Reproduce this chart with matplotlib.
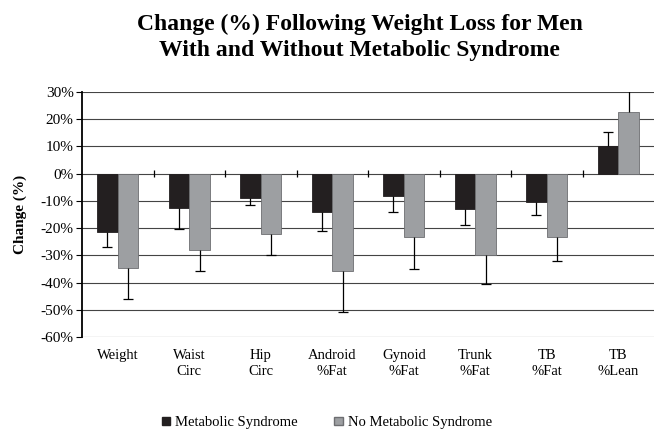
import numpy as np
import matplotlib.pyplot as plt
from matplotlib.patches import Patch


# data
categories = ['Weight', 'Waist\nCirc', 'Hip\nCirc', 'Android\n%Fat', 'Gynoid\n%Fat',
              'Trunk\n%Fat', 'TB\n%Fat', 'TB\n%Lean']
met_syn = [-21.3, -12.5, -8.8, -14.0, -8.1, -13.1, -10.3, 10.2]
met_syn_err = [5.5, 8.0, 2.8, 7.2, 5.9, 5.9, 5.0, 5.1]
no_met_syn = [-34.6, -27.9, -22.1, -35.8, -23.4, -29.9, -23.4, 22.7]
no_met_syn_err = [11.3, 7.8, 7.8, 15.2, 11.8, 10.8, 8.7, 9.0]
yticks = list(range(-60, 31, 10))

# style setting
plt.rcParams['font.family'] = ['Liberation Serif', 'DejaVu Serif']
BLACK = '#231f20'
GRAY = '#9d9fa2'
GRAY_EDGE = '#6d6e71'


def draw_errors(ax, x, vals, errs):
    # one-sided error bars pointing away from zero
    vals = np.array(vals)
    ends = vals + np.sign(vals) * np.array(errs)
    ax.vlines(x, vals, ends, color='black', lw=0.9, zorder=4)
    ax.plot(x, ends, ls='none', marker='_', ms=7, mew=0.9, color='black', zorder=4)


def main():
    fig = plt.figure(figsize=(6.54, 4.29), dpi=100)
    ax = fig.add_axes([0.1254, 0.2145, 0.8746, 0.571])

    x = np.arange(len(categories))
    w = 0.29
    ax.bar(x - w / 2, met_syn, w, color=BLACK, edgecolor=BLACK, lw=0.6, zorder=3)
    ax.bar(x + w / 2, no_met_syn, w, color=GRAY, edgecolor=GRAY_EDGE, lw=0.6, zorder=3)
    draw_errors(ax, x - w / 2, met_syn, met_syn_err)
    draw_errors(ax, x + w / 2, no_met_syn, no_met_syn_err)

    # horizontal grid
    for t in yticks:
        ax.axhline(t, color='#444444', lw=0.8, zorder=1)
    # category separator ticks on the zero line
    ax.vlines(x[:-1] + 0.5, -1.2, 1.2, color='black', lw=0.9, zorder=2)

    ax.set_xlim(-0.5, len(categories) - 0.5)
    ax.set_ylim(-60, 30)
    ax.set_yticks(yticks)
    ax.set_yticklabels([f'{t}%' for t in yticks], fontsize=11)
    ax.set_xticks(x)
    ax.set_xticklabels(categories, fontsize=10.5, linespacing=1.25)
    ax.tick_params(axis='x', length=0, pad=9)
    ax.tick_params(axis='y', length=4, width=0.8, pad=2)

    for s in ['top', 'right', 'bottom']:
        ax.spines[s].set_visible(False)
    ax.spines['left'].set_linewidth(1.3)

    ax.set_ylabel('Change (%)', fontsize=11, fontweight='bold', labelpad=10)

    fig.text(0.55, 0.968, 'Change (%) Following Weight Loss for Men\nWith and Without Metabolic Syndrome',
             ha='center', va='top', fontsize=17, fontweight='bold', linespacing=1.3)

    handles = [Patch(facecolor=BLACK, edgecolor=BLACK),
               Patch(facecolor=GRAY, edgecolor=GRAY_EDGE)]
    fig.legend(handles, ['Metabolic Syndrome', 'No Metabolic Syndrome'], loc='center',
               bbox_to_anchor=(0.5, 0.015), ncol=2, frameon=False, fontsize=10.5,
               handlelength=0.55, handleheight=0.55, handletextpad=0.4, columnspacing=2.5)

    fig.savefig('out.png', dpi=100)


if __name__ == '__main__':
    main()
